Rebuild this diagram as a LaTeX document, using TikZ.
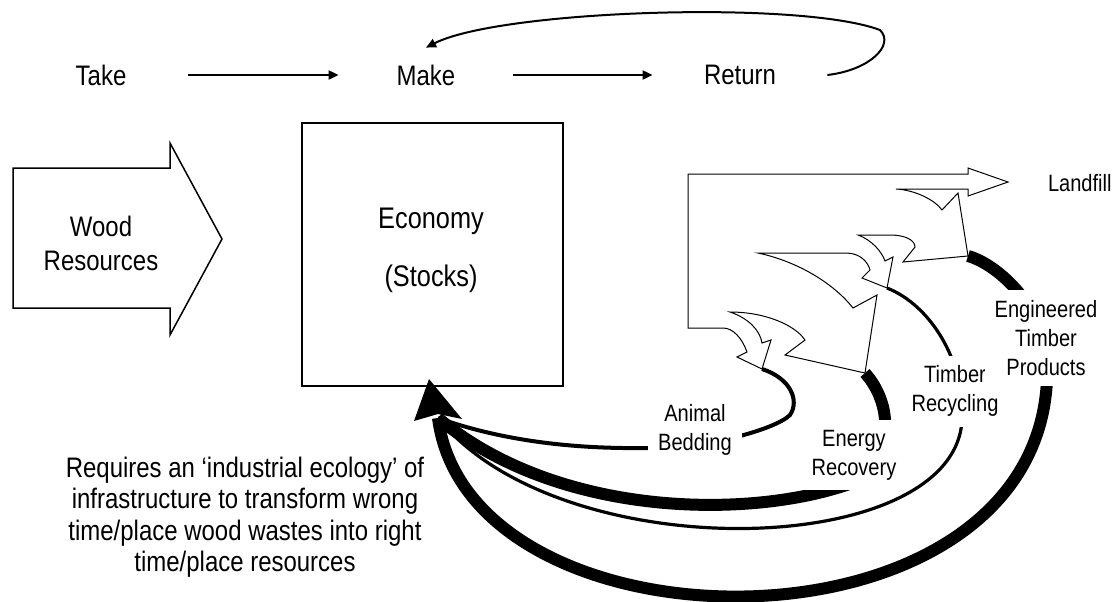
\documentclass[tikz,border=0pt]{standalone}
\usepackage{fontspec}
\setmainfont[FakeStretch=0.85]{Liberation Sans}
\usetikzlibrary{arrows.meta}

\tikzset{
  stage/.style={minimum width=87pt, minimum height=27pt, inner sep=0pt, font=\fontsize{14.1}{16}\selectfont},
  lbl/.style={fill=white, align=center, inner sep=5pt, font=\fontsize{11.8}{14.5}\selectfont},
  flow/.style={line width=0.5pt, line join=miter},
}

\begin{document}
\begin{tikzpicture}[x=0.5pt, y=-0.5pt, >={Triangle[length=5pt,width=4.5pt]}]
    \useasboundingbox (0,0) rectangle (1116,601);

    \foreach \n/\x in {Take/101, Make/426, Return/740}
        \node[stage] (\n) at (\x,75) {\n};

    \path[line width=1pt]
        (Take) edge[->] (Make)
        (Make) edge[->] (Return);
    \draw[line width=1pt, ->] (Return.east) .. controls (870,70) and (895,45) .. (880,30)
        .. controls (800,0) and (500,10) .. (Make.north);

    \draw[line width=0.75pt] (13,168) -- (170,168) -- (170,143) -- (222,239) -- (170,335) -- (170,308) -- (13,308) -- cycle;
    \node[align=center, font=\fontsize{14.1}{17}\selectfont] (wood) at (101,243) {Wood\\Resources};

    \node[draw, line width=0.6pt, minimum width=130.5pt, minimum height=131.5pt] (econ) at (432.5,254.5) {};
    \node[align=center, font=\fontsize{14.9}{29}\selectfont] (stocks) at (431,250) {Economy\\(Stocks)};

    \node[align=center, font=\fontsize{14.1}{15.75}\selectfont] (note) at (245,517)
        {Requires an ‘industrial ecology’ of\\infrastructure to transform wrong\\time/place wood wastes into right\\time/place resources};

    \coordinate (sA) at (762,369);
    \coordinate (sR) at (865,373);
    \coordinate (sT) at (887,288);
    \coordinate (sE) at (968,256);
    \coordinate (base) at (438,418);

    \draw[line width=2pt] (sA) .. controls (790,378) and (800,400) .. (790,415)
        .. controls (775,430) and (700,450) .. (645,448) .. controls (570,449) and (500,440) .. (base);
    \draw[line width=6pt] (sR) .. controls (885,395) and (900,440) .. (860,480)
        .. controls (760,520) and (560,520) .. (base);
    \draw[line width=1.6pt] (sT) .. controls (930,305) and (965,360) .. (962,420)
        .. controls (955,560) and (560,570) .. (base);
    \draw[line width=6pt] (sE) .. controls (1000,265) and (1045,310) .. (1047,360)
        .. controls (1060,665) and (470,665) .. (base);
    \fill (429,379) -- (414,421) -- (438,414) -- (462,419) -- cycle;

    \node[lbl] (animal) at (695,430) {Animal\\Bedding};
    \node[lbl] (energy) at (854,455) {Energy\\Recovery};
    \node[lbl] (timber) at (955,391) {Timber\\Recycling};
    \node[lbl] (eng) at (1046,338) {Engineered\\Timber\\Products};
    \node[font=\fontsize{11.8}{14}\selectfont, anchor=east, inner sep=0pt] (landfill) at (1112,183) {Landfill};

    \draw[flow] (sA) -- (737,357) -- (747,352) .. controls (742,338) and (733,328) .. (723,328)
        -- (688,328) -- (688,174) -- (968,174) -- (968,168) -- (1008,182) -- (968,196) -- (968,189)
        -- (896,189) .. controls (915,190) and (935,200) .. (942,210) -- (958,193) -- (sE);
    \draw[flow] (sE) -- (903,262) -- (915,247) .. controls (915,240) and (905,235) .. (890,235)
        -- (858,235) .. controls (872,240) and (882,252) .. (885,261) -- (893,257) -- (sT);
    \draw[flow] (sT) -- (862,278) -- (870,270) .. controls (868,262) and (860,253) .. (846,253)
        -- (758,253) .. controls (800,262) and (835,285) .. (853,308) -- (877,295) -- (sR);
    \draw[flow] (sR) -- (785,355) -- (805,340) .. controls (795,325) and (765,312) .. (730,312)
        .. controls (748,318) and (760,330) .. (762,343) -- (771,340) -- (sA);
\end{tikzpicture}
\end{document}
